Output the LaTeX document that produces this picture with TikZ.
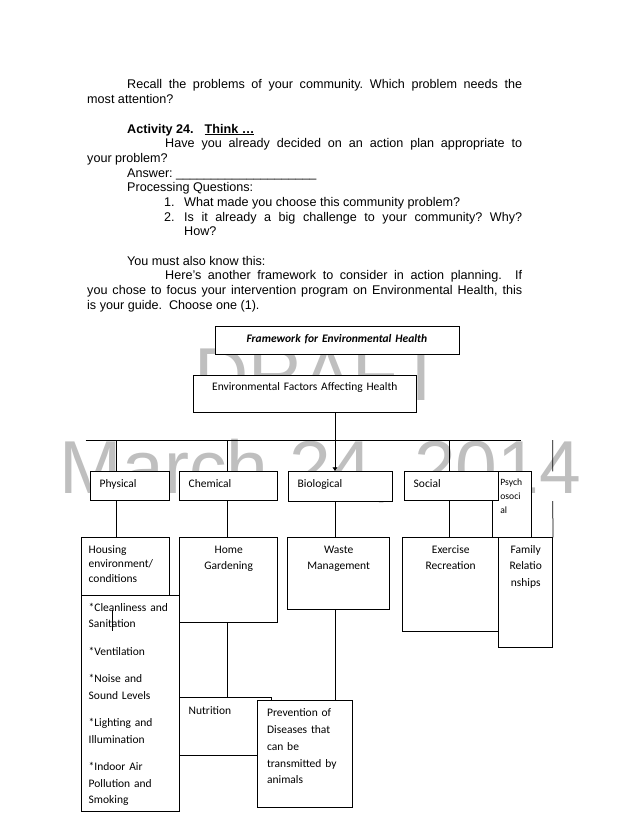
\documentclass[tikz,border=0pt]{standalone}
\usepackage{fontspec}
\setmainfont{Liberation Sans}
\newfontfamily\calibri{Carlito}
\usetikzlibrary{arrows.meta}
\definecolor{draftgray}{HTML}{BFBFBF}
\frenchspacing

\begin{document}
\begin{tikzpicture}[x=1pt,y=-1pt,>={Latex[length=4pt,width=5.5pt]},
 para/.style={anchor=base west,inner sep=0pt,font=\fontsize{12.6}{14.7}\selectfont},
 wmark/.style={anchor=base,inner sep=0pt,text=draftgray,font=\fontsize{75}{75}\selectfont},
 box/.style={draw,fill=white,anchor=north west,inner ysep=0pt,line width=0.75pt,font=\calibri\fontsize{11.5}{16.7}\selectfont},
 link/.style={line width=0.75pt}]
 \useasboundingbox (0,0) rectangle (639,832);
 \fill[white] (0,0) rectangle (639,832);

 % watermark
 \node[wmark] (draft) at (319,400) {DRAFT};
 \node[wmark] (date) at (320.5,493) {March 24, 2014};

 % page text
 \node[para] (recallA) at (127,89) {\makebox[395pt][s]{Recall the problems of your community. Which problem needs the}};
 \node[para] (recallB) at (87,103.7) {most attention?};
 \node[para,font=\bfseries\fontsize{12.6}{14.7}\selectfont] (act) at (127,133) {Activity 24.\hspace{11pt}\underline{Think …}};
 \node[para] (haveA) at (165,147.7) {\makebox[357pt][s]{Have you already decided on an action plan appropriate to}};
 \node[para] (haveB) at (87,162.3) {your problem?};
 \node[para] (answer) at (127,177) {Answer: \_\_\_\_\_\_\_\_\_\_\_\_\_\_\_\_\_\_\_\_};
 \node[para] (proc) at (127,191.7) {Processing Questions:};
 \node[para] (qA) at (164,206.4) {\makebox[20pt][l]{1.}What made you choose this community problem?};
 \node[para] (qB) at (164,221) {\makebox[20pt][l]{2.}\makebox[338pt][s]{Is it already a big challenge to your community? Why?}};
 \node[para] (qC) at (184,235.7) {How?};
 \node[para] (know) at (127,265) {You must also know this:};
 \node[para] (hereA) at (165,279.7) {\makebox[357pt][s]{Here’s another framework to consider in action planning.\ \ If}};
 \node[para] (hereB) at (87,294.3) {\makebox[435pt][s]{you chose to focus your intervention program on Environmental Health, this}};
 \node[para] (hereC) at (87,309) {is your guide.\ \ Choose one (1).};

 % drop points on the bus
 \coordinate (busL) at (85.7,440);
 \coordinate (busR) at (521,440);
 \coordinate (dPhy) at (116.3,440);
 \coordinate (dChe) at (227.3,440);
 \coordinate (dBio) at (335,440);
 \coordinate (dSoc) at (449.3,440);
 \coordinate (dRig) at (552.7,440);

 % boxes
 \node[box,inner xsep=4pt,text width=236pt,text height=16pt,text depth=11.5pt,align=center,font=\calibri\bfseries\itshape\fontsize{11.5}{14}\selectfont] (frame) at (214.5,326) {Framework for Environmental Health};
 \node[box,inner xsep=4pt,text width=214.5pt,text height=14.7pt,text depth=22.6pt,align=center] (env) at (193.2,375) {Environmental Factors Affecting Health};

 \node[box,inner xsep=9.3pt,text width=60.7pt,text height=15.7pt,text depth=13.3pt,align=left] (phys) at (90,471.3) {Physical};
 \node[box,inner xsep=9pt,text width=80pt,text height=15.7pt,text depth=13.3pt,align=left] (chem) at (179.3,471.3) {Chemical};
 \node[box,inner xsep=9pt,text width=85.2pt,text height=15.7pt,text depth=14.3pt,align=left] (bio) at (288.3,471.3) {Biological};
 \node[box,inner xsep=8.3pt,text width=23pt,text height=14.1pt,text depth=51.9pt,align=left,font=\calibri\fontsize{9.6}{13.8}\selectfont] (psy) at (491.7,471.3) {Psych\\osoci\\al};
 \node[box,inner xsep=9.3pt,text width=75.7pt,text height=15.7pt,text depth=13.3pt,align=left] (soc) at (404,471.3) {Social};

 \node[box,inner xsep=7.6pt,text width=73.4pt,text height=15.4pt,text depth=42.6pt,align=left,font=\calibri\fontsize{11.5}{14.6}\selectfont] (house) at (80.7,537.3) {Housing\\environment/\\conditions};
 \node[box,inner xsep=4pt,text width=90pt,text height=15.4pt,text depth=69.3pt,align=center] (garden) at (179.3,537.3) {Home\\Gardening};
 \node[box,inner xsep=4pt,text width=94pt,text height=15.4pt,text depth=56.6pt,align=center] (waste) at (287.3,537.3) {Waste\\Management};
 \node[box,inner xsep=4pt,text width=88pt,text height=15.4pt,text depth=78.3pt,align=center] (exer) at (402.3,537.3) {Exercise\\Recreation};
 \node[box,inner xsep=4pt,text width=46pt,text height=15.4pt,text depth=94.6pt,align=center] (fam) at (498.3,537.3) {Family\\Relatio\\nships};

 \node[box,inner xsep=9.3pt,text width=73.1pt,text height=16.4pt,text depth=41.3pt,align=left] (nutri) at (179,697.3) {Nutrition};
 \node[box,inner xsep=9.4pt,text width=75.6pt,text height=15.7pt,text depth=91.3pt,align=left,font=\calibri\fontsize{11.5}{16.9}\selectfont] (prev) at (257.3,700.3) {Prevention of\\Diseases that\\can be\\transmitted by\\animals};
 \node[box,inner xsep=7.6pt,text width=83.1pt,text height=15.7pt,text depth=200pt,align=left,font=\calibri\fontsize{11.5}{16.5}\selectfont] (clean) at (80.7,595.3) {\makebox[\linewidth][s]{*Cleanliness and}\\Sanitation\\[11pt]*Ventilation\\[11pt]*Noise and\\Sound Levels\\[11pt]*Lighting and\\Illumination\\[11pt]*Indoor Air\\Pollution and\\Smoking};

 % connectors
 \draw[link] (busL) -- (busR);
 \draw[link] (dPhy) -- (dPhy |- phys.north) (dPhy |- phys.south) -- (dPhy |- house.north);
 \draw[link] (dChe) -- (dChe |- chem.north) (dChe |- chem.south) -- (dChe |- garden.north)
  (dChe |- garden.south) -- (dChe |- nutri.north);
 \draw[link,->] (dBio |- env.south) -- (dBio |- bio.north);
 \draw[link] (dBio |- bio.south) -- (dBio |- waste.north) (dBio |- waste.south) -- (dBio |- prev.north);
 \draw[link] (dSoc) -- (dSoc |- soc.north) (dSoc |- soc.south) -- (dSoc |- exer.north);
 \draw[link] (dRig) -- (dRig |- soc.north) (dRig |- soc.south) -- (fam.north east);
 \draw[link] ([shift={(31.6,14.7)}]clean.north west) -- ++(0,20.7);
\end{tikzpicture}
\end{document}
